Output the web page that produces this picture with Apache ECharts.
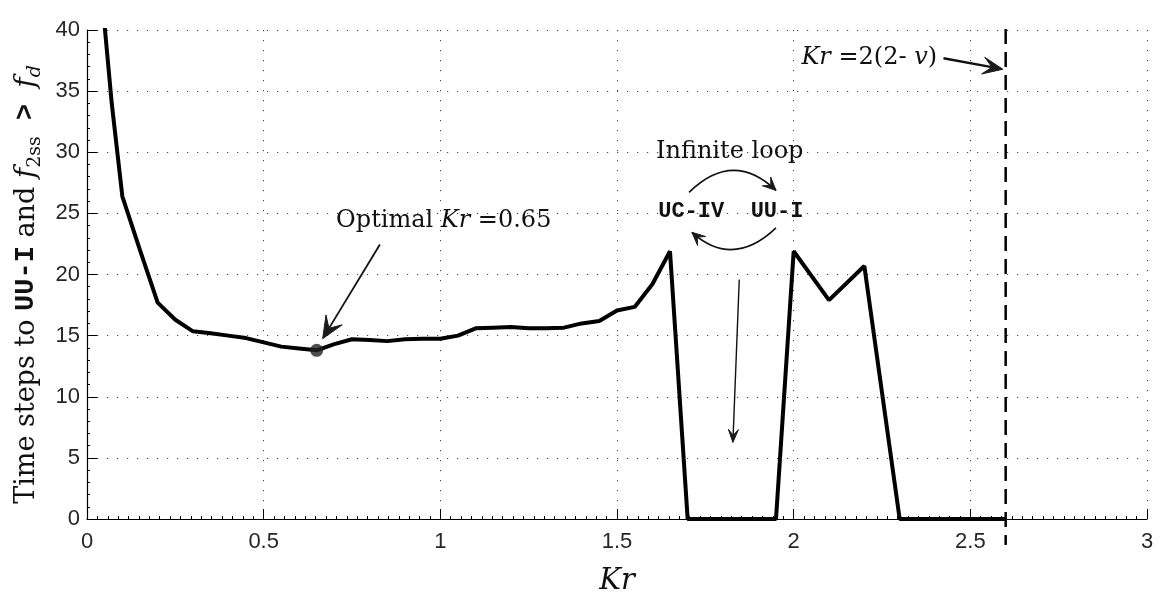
<!DOCTYPE html>
<html>
<head>
<meta charset="utf-8">
<script src="https://cdn.jsdelivr.net/npm/echarts@6/dist/echarts.min.js"></script>
<style>
html,body{margin:0;padding:0;background:#fff;}
#c{width:1161px;height:601px;}
</style>
</head>
<body>
<div id="c"></div>
<script>
// ---- data ----
const kr = [0.05,0.07,0.1,0.15,0.2,0.25,0.3,0.35,0.4,0.45,0.5,0.55,0.6,0.65,0.7,0.75,0.8,0.85,0.9,0.95,1.0,1.05,1.1,1.15,1.2,1.25,1.3,1.35,1.4,1.45,1.5,1.55,1.6,1.65,1.7,1.75,1.8,1.85,1.9,1.95,2.0,2.1,2.2,2.3,2.4,2.5,2.6];
const steps = [40.3,34,26.4,22,17.7,16.3,15.35,15.2,15.0,14.8,14.45,14.1,13.95,13.8,14.3,14.7,14.65,14.55,14.7,14.75,14.75,15.0,15.6,15.65,15.7,15.6,15.6,15.65,16.0,16.2,17.05,17.35,19.2,21.9,0,0,0,0,0,0,21.9,17.9,20.7,0,0,0,0];
const optimal = [0.65, 13.8];
const limitKr = 2.6;
const xTicks = {min:0, max:3, interval:0.5};
const yTicks = {min:0, max:40, interval:5};

const chart = echarts.init(document.getElementById('c'));
const serif = '"DejaVu Serif", serif';
const gridLine = {show:true, lineStyle:{color:'#444', width:1, type:[1.2,8.8]}};

const option = {
  animation:false,
  backgroundColor:'#fff',
  grid:{left:87, right:14, top:30, bottom:81, containLabel:false},
  xAxis:{
    type:'value', min:xTicks.min, max:xTicks.max, interval:xTicks.interval,
    axisLine:{show:true, lineStyle:{color:'#000', width:1.2}},
    axisTick:{show:true, inside:true, length:10, lineStyle:{color:'#000'}},
    minorTick:{show:true, splitNumber:17, length:3, lineStyle:{color:'#000'}},
    axisLabel:{color:'#262626', fontSize:22, fontFamily:'"Liberation Sans", Arial, sans-serif', margin:12,
      formatter:v=>String(+v.toFixed(2))},
    splitLine:gridLine,
    name:'Kr', nameLocation:'middle', nameGap:48,
    nameTextStyle:{fontFamily:serif, fontStyle:'italic', fontSize:29, color:'#111'}
  },
  yAxis:{
    type:'value', min:yTicks.min, max:yTicks.max, interval:yTicks.interval,
    axisLine:{show:true, lineStyle:{color:'#000', width:1.2}},
    axisTick:{show:true, inside:true, length:10, lineStyle:{color:'#000'}},
    minorTick:{show:true, splitNumber:5, length:3, lineStyle:{color:'#000'}},
    axisLabel:{color:'#262626', fontSize:22, fontFamily:'"Liberation Sans", Arial, sans-serif', margin:7},
    splitLine:gridLine,
    name:'{r|Time steps to }{m|UU-I}{r| and }{i|f}{s|2ss}{m| > }{i|f}{sd|d}',
    nameLocation:'middle', nameGap:41,
    nameTextStyle:{
      padding:[0,20,0,0],
      rich:{
        r:{fontFamily:serif, fontSize:27, color:'#111', lineHeight:36},
        m:{fontFamily:'"Liberation Mono", monospace', fontWeight:'bold', fontSize:27, color:'#111', lineHeight:36},
        i:{fontFamily:serif, fontStyle:'italic', fontSize:28, color:'#111', lineHeight:36},
        s:{fontFamily:serif, fontSize:19, color:'#111', lineHeight:28, verticalAlign:'bottom'},
        sd:{fontFamily:serif, fontStyle:'italic', fontSize:19, color:'#111', lineHeight:28, verticalAlign:'bottom'}
      }
    }
  },
  series:[
    {type:'line', data:kr.map((x,i)=>[x,steps[i]]), symbol:'none', clip:true,
     lineStyle:{color:'#000', width:4}, z:3},
    {type:'scatter', data:[optimal], symbol:'circle', symbolSize:13,
     itemStyle:{color:'#222'}, z:4}
  ]
};
chart.setOption(option);

// ---- annotations, anchored in data coordinates ----
const P = (x,y)=>chart.convertToPixel({gridIndex:0},[x,y]);

function head(tip, from, len, wid, back, fill){
  const dx=tip[0]-from[0], dy=tip[1]-from[1], L=Math.hypot(dx,dy);
  const ux=dx/L, uy=dy/L, px=-uy, py=ux;
  const bx=tip[0]-ux*len, by=tip[1]-uy*len;
  return {type:'polygon', z:10, shape:{points:[
    tip,[bx+px*wid/2, by+py*wid/2],[tip[0]-ux*len*back, tip[1]-uy*len*back],[bx-px*wid/2, by-py*wid/2]]},
    style:{fill:fill||'#1a1a1a', stroke:fill||'#1a1a1a', lineWidth:1}};
}
function arrow(a,b,w,len,wid,back){
  const A=P(a[0],a[1]), B=P(b[0],b[1]);
  const dx=B[0]-A[0], dy=B[1]-A[1], L=Math.hypot(dx,dy);
  const E=[B[0]-dx/L*len*back*0.9, B[1]-dy/L*len*back*0.9];
  return [{type:'line', z:10, shape:{x1:A[0],y1:A[1],x2:E[0],y2:E[1]}, style:{stroke:'#111', lineWidth:w}},
          head(B,A,len,wid,back)];
}
function curve(a,c,b,w,len,wid,back){
  const A=P(a[0],a[1]), C=P(c[0],c[1]), B=P(b[0],b[1]);
  return [{type:'bezierCurve', z:10, shape:{x1:A[0],y1:A[1],cpx1:C[0],cpy1:C[1],x2:B[0],y2:B[1]},
           style:{stroke:'#111', lineWidth:w, fill:null}},
          head(B,C,len,wid,back)];
}
function text(pos, str, align, rich){
  const p=P(pos[0],pos[1]);
  return {type:'text', z:11, x:p[0], y:p[1],
    style:{text:str, align:align, verticalAlign:'middle', rich:rich, font:'24px '+serif, fill:'#111'}};
}

const lim0=P(limitKr, yTicks.max), lim1=P(limitKr, yTicks.min);
const serifRich = {
  r:{fontFamily:serif, fontSize:24, color:'#111'},
  i:{fontFamily:serif, fontStyle:'italic', fontSize:24, color:'#111'}
};
const monoRich = {m:{fontFamily:'"Liberation Mono", monospace', fontWeight:'bold', fontSize:22, color:'#111'}};

const graphics = [
  {type:'line', z:9, shape:{x1:lim0[0], y1:lim0[1]-1, x2:lim1[0], y2:lim1[1]+26},
   style:{stroke:'#000', lineWidth:2.5, lineDash:[15,8]}},
  text([0.705,24.4], '{r|Optimal }{i|Kr}{r| =0.65}', 'left', serifRich),
  ...arrow([0.829,22.45],[0.667,14.75],1.8,22,19,0.55),
  text([1.819,30.07], '{r|Infinite loop}', 'center', serifRich),
  text([1.710,25.17], '{m|UC-IV}', 'center', monoRich),
  text([1.953,25.17], '{m|UU-I}', 'center', monoRich),
  ...curve([1.704,26.72],[1.828,30.23],[1.950,26.88],1.6,13,12,0.55),
  ...curve([1.950,23.81],[1.828,20.45],[1.712,23.45],1.6,13,12,0.55),
  ...arrow([1.846,19.59],[1.828,6.26],1.4,13,10,0.55),
  text([2.022,37.69], '{i|Kr}{r| =2(2- }{i|v}{r|)}', 'left', serifRich),
  ...arrow([2.424,37.69],[2.592,36.79],2.4,20,17,0.55)
];
chart.setOption({graphic:graphics});
</script>
</body>
</html>
